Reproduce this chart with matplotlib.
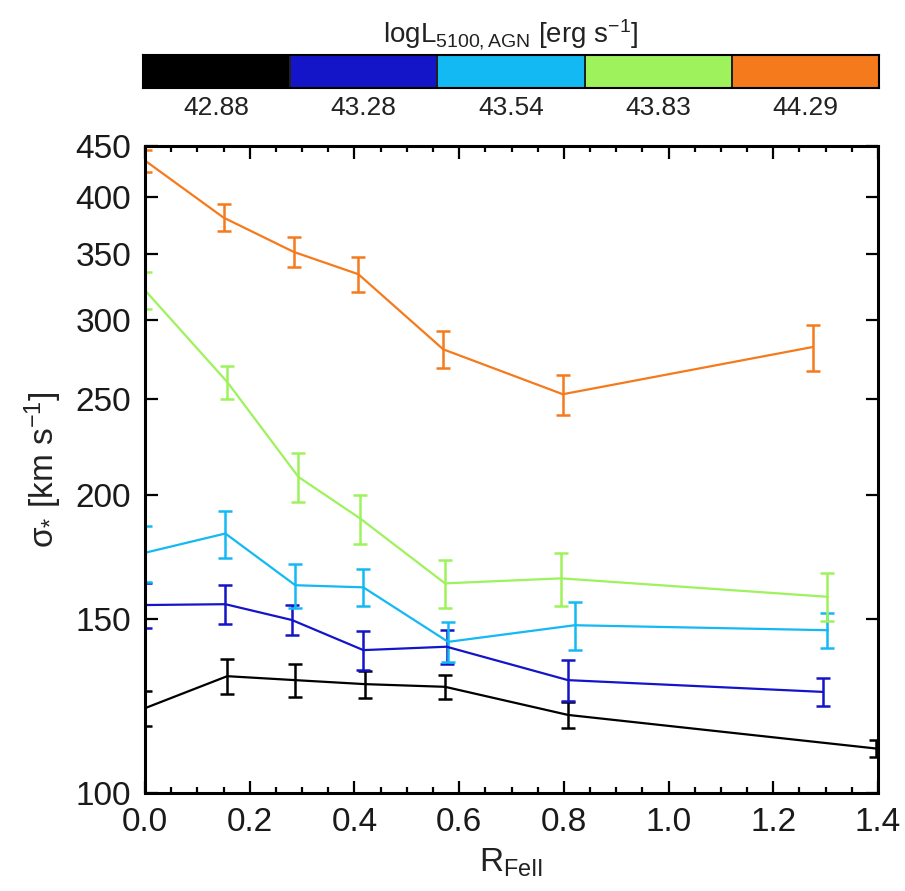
import matplotlib
matplotlib.use("Agg")
import matplotlib.pyplot as plt
import numpy as np
from matplotlib.ticker import FixedLocator, NullLocator, MultipleLocator
from matplotlib.colors import ListedColormap

plt.rcParams['font.family'] = ['Liberation Sans', 'DejaVu Sans']
plt.rcParams['mathtext.fontset'] = 'custom'
plt.rcParams['mathtext.rm'] = 'Liberation Sans'
plt.rcParams['mathtext.it'] = 'Liberation Sans'

# Luminosity bins (colour bar)
lum_labels = ["42.88", "43.28", "43.54", "43.83", "44.29"]
lum_colors = ["#000000", "#1414C8", "#12B9F2", "#9EF25C", "#F57A1C"]

# sigma_* vs R_FeII, one series per luminosity bin
r_black = [0.0, 0.157, 0.287, 0.420, 0.573, 0.808, 1.396]
s_black = [121.8, 131.2, 130.0, 128.8, 128.0, 119.9, 110.9]
e_black = [5.0, 5.4, 5.0, 4.0, 3.5, 3.6, 2.2]

r_blue = [0.0, 0.1535, 0.2806, 0.417, 0.576, 0.808, 1.294]
s_blue = [154.8, 155.1, 149.5, 139.4, 140.5, 130.0, 126.5]
e_blue = [8.1, 6.9, 5.2, 6.2, 5.5, 6.2, 4.0]

r_cyan = [0.0, 0.1535, 0.287, 0.417, 0.579, 0.8206, 1.3035]
s_cyan = [174.8, 182.8, 162.1, 161.3, 142.1, 147.7, 146.0]
e_cyan = [11.4, 10.0, 8.2, 6.9, 6.6, 8.3, 5.9]

r_green = [0.0, 0.157, 0.293, 0.411, 0.573, 0.795, 1.3035]
s_green = [321.8, 260.0, 208.5, 189.3, 162.8, 164.7, 157.8]
e_green = [14.0, 10.0, 11.7, 10.8, 9.1, 10.2, 8.8]

r_orange = [0.0, 0.150, 0.284, 0.4076, 0.5696, 0.798, 1.275]
s_orange = [435.0, 381.0, 351.8, 334.0, 280.5, 252.7, 282.0]
e_orange = [11.0, 12.0, 12.0, 13.8, 12.0, 11.7, 15.0]

series = [
    (r_black, s_black, e_black),
    (r_blue, s_blue, e_blue),
    (r_cyan, s_cyan, e_cyan),
    (r_green, s_green, e_green),
    (r_orange, s_orange, e_orange),
]

y_ticks = [100, 150, 200, 250, 300, 350, 400, 450]
x_ticks = [0.0, 0.2, 0.4, 0.6, 0.8, 1.0, 1.2, 1.4]

W, H = 905, 891
fig = plt.figure(figsize=(W / 100, H / 100), dpi=100)

ax = fig.add_axes([145 / W, 1 - 793 / H, (878 - 145) / W, (793 - 146) / H])
for (r, s, e), c in zip(series, lum_colors):
    ax.errorbar(r, s, yerr=e, color=c, lw=1.6, elinewidth=1.8,
                capsize=5, capthick=1.8)

ax.set_yscale('log')
ax.set_xlim(0, 1.4)
ax.set_ylim(100, 450)
ax.yaxis.set_major_locator(FixedLocator(y_ticks))
ax.yaxis.set_minor_locator(NullLocator())
ax.set_yticklabels([str(v) for v in y_ticks])
ax.xaxis.set_major_locator(FixedLocator(x_ticks))
ax.xaxis.set_minor_locator(MultipleLocator(0.05))
ax.set_xticklabels([f"{v:.1f}" for v in x_ticks])

for sp in ax.spines.values():
    sp.set_linewidth(2.2)
ax.tick_params(which='both', direction='in', top=True, right=True,
               width=1.6, labelsize=24, labelcolor='#1a1a1a')
ax.tick_params(which='major', length=9)
ax.tick_params(which='minor', length=4.5)
ax.tick_params(axis='x', pad=10)
ax.tick_params(axis='y', pad=10)

ax.set_xlabel(r"R$_{\rm FeII}$", fontsize=24, labelpad=6, color='#222222')
ax.set_ylabel(r"σ$_{*}$ [km s$^{-1}$]", fontsize=24, labelpad=8,
              color='#222222')

# Discrete colour bar for the luminosity bins
cax = fig.add_axes([143 / W, 1 - 88 / H, (879 - 143) / W, (88 - 55) / H])
cmap = ListedColormap(lum_colors)
cax.pcolormesh(np.arange(len(lum_colors) + 1), [0, 1],
               np.arange(len(lum_colors))[None, :], cmap=cmap,
               edgecolors='#202020', linewidth=1.2)
cax.set_xlim(0, len(lum_colors))
cax.set_ylim(0, 1)
cax.set_xticks(np.arange(len(lum_colors)) + 0.5)
cax.set_xticklabels(lum_labels, fontsize=19, color='#222222')
cax.set_yticks([])
cax.tick_params(axis='x', length=0, pad=6)
for sp in cax.spines.values():
    sp.set_linewidth(1.5)
cax.set_title(r"logL$_{\rm 5100,AGN}$ [erg s$^{-1}$]", fontsize=20, pad=9,
              color='#222222')

fig.savefig("out.png", dpi=100)
